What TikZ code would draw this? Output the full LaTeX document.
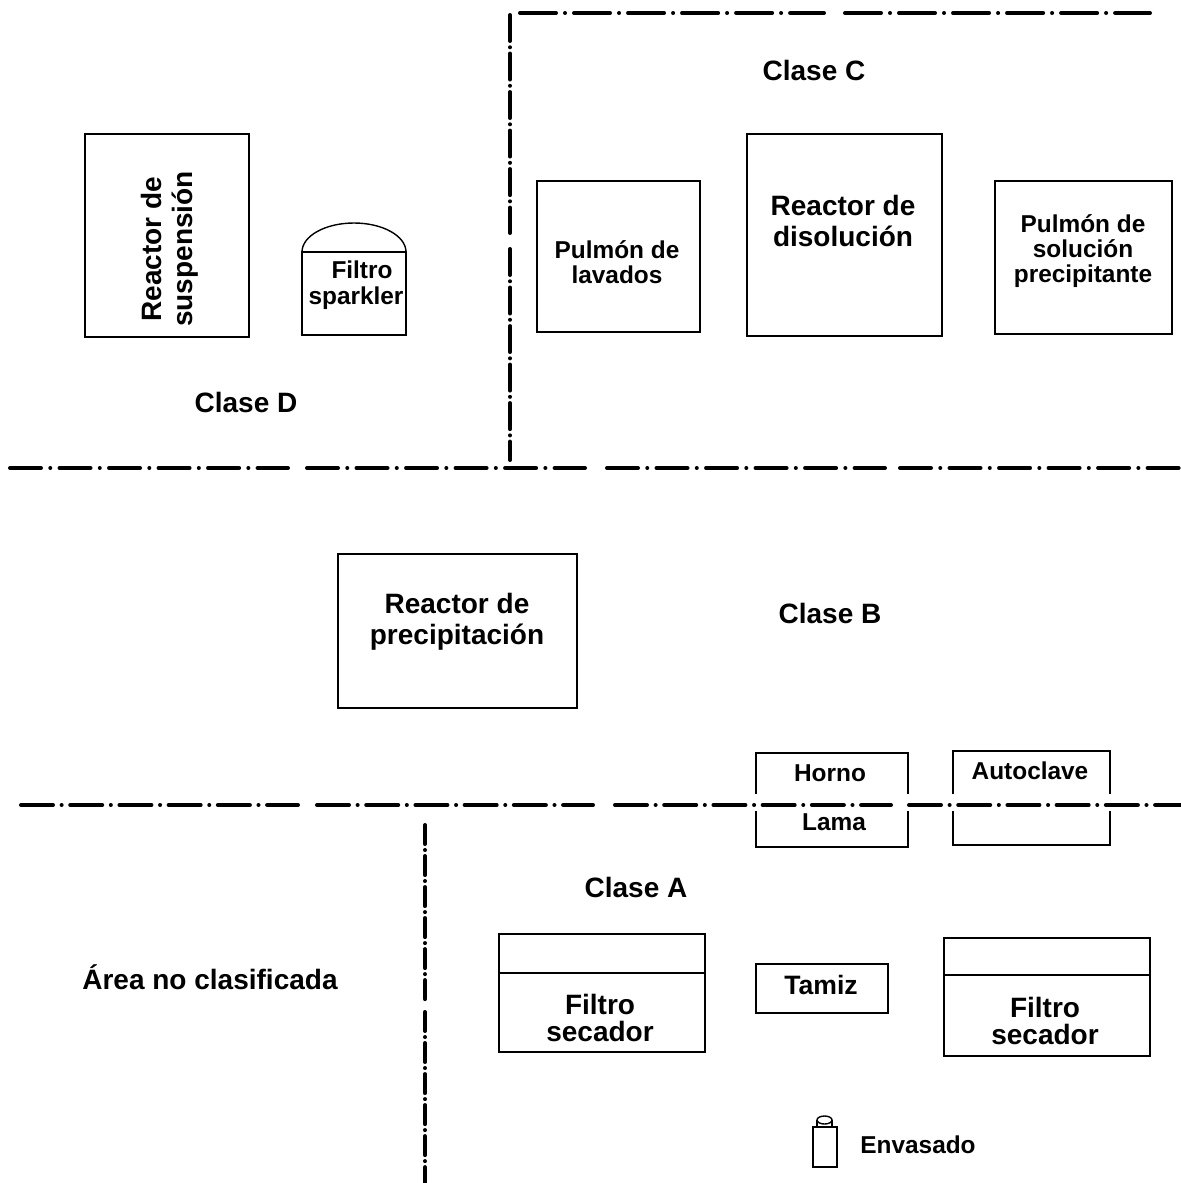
\documentclass[tikz,border=0pt]{standalone}
\usepackage{fontspec}
\setmainfont{Liberation Sans}
\begin{document}
\begin{tikzpicture}[x=0.5pt,y=-0.5pt,
  dd/.style 2 args={line width=2pt, line cap=round, dash pattern=on #1 off #2 on 0.01pt off #2},
  box/.style={draw, line width=0.7pt},
  big/.style={font=\fontsize{14}{15.5}\selectfont\bfseries, align=center, inner sep=0pt},
  fsec/.style={font=\fontsize{14}{13.5}\selectfont\bfseries, align=center, inner sep=0pt},
  small/.style={font=\fontsize{12.2}{12.7}\selectfont\bfseries, align=center, inner sep=0pt}]
\useasboundingbox (0,0) rectangle (1180,1183);
% zone borders
\coordinate (t1a) at (520,13); \coordinate (t1b) at (824,13);
\coordinate (t2a) at (845,13); \coordinate (t2b) at (1150,13);
\draw[dd={18pt}{4.5pt}] (t1a) -- (t1b);
\draw[dd={18pt}{4.5pt}] (t2a) -- (t2b);
\coordinate (v1a) at (510,15); \coordinate (v1b) at (510,233);
\coordinate (v2a) at (510,249); \coordinate (v2b) at (510,460);
\draw[dd={13pt}{3.125pt}] (v1a) -- (v1b);
\draw[dd={13pt}{3.125pt}] (v2a) -- (v2b);
\foreach \a/\b in {10/288, 307/585, 607/885, 900/1185}{
  \coordinate (ma) at (\a,468); \coordinate (mb) at (\b,468);
  \draw[dd={15.5pt}{4.625pt}] (ma) -- (mb);}
\foreach \a/\b in {21/298, 317/593, 615/891, 909/1185}{
  \coordinate (la) at (\a,805); \coordinate (lb) at (\b,805);
  \draw[dd={16pt}{4.3pt}] (la) -- (lb);}
\coordinate (w1a) at (425,825); \coordinate (w1b) at (425,1000);
\coordinate (w2a) at (425,1012); \coordinate (w2b) at (425,1190);
\draw[dd={9.5pt}{3pt}] (w1a) -- (w1b);
\draw[dd={9.5pt}{3pt}] (w2a) -- (w2b);
% Clase D
\draw[box] (85,134) rectangle (249,337);
\node[big, rotate=90] (rs) at (170,249) {Reactor de\\suspensión};
\draw[box] (302,252) rectangle (406,335);
\draw[box] (302,252) arc[start angle=180, end angle=360, x radius=52, y radius=29];
\node[small] (fs) at (356,285) {\hspace{6pt}Filtro\\sparkler};
\node[big] (cd) at (246,402) {Clase D};
% Clase C
\node[big] (cc) at (814,70) {Clase C};
\draw[box] (537,181) rectangle (700,332);
\node[small] (pl) at (617,262) {Pulmón de\\lavados};
\draw[box] (747,134) rectangle (942,336);
\node[big] (rd) at (843,221) {Reactor de\\disolución};
\draw[box] (995,181) rectangle (1172,334);
\node[small] (ps) at (1083,251) {Pulmón de\\solución\\precipitante};
% Clase B
\draw[box] (338,554) rectangle (577,708);
\node[big] (rp) at (457,622) {Reactor de\\precipitación};
\node[big] (cb) at (830,613) {Clase B};
% Horno / Autoclave
\draw[box] (756,794) -- (756,753) -- (908,753) -- (908,794);
\draw[box] (756,811) -- (756,847) -- (908,847) -- (908,811);
\node[small] (ho) at (830,773) {Horno};
\node[small] (lm) at (834,822) {Lama};
\draw[box] (953,794) -- (953,751) -- (1110,751) -- (1110,794);
\draw[box] (953,811) -- (953,845) -- (1110,845) -- (1110,811);
\node[small] (ac) at (1030,771) {Autoclave};
% Clase A
\node[big] (ca) at (636,887) {Clase A};
\draw[box] (499,934) rectangle (705,1052);
\draw[box] (499,973) -- (705,973);
\node[fsec] (fs1) at (600,1018) {Filtro\\secador};
\draw[box] (756,964) rectangle (888,1013);
\node[font=\fontsize{13.3}{14}\selectfont\bfseries, inner sep=0pt] (tz) at (821,985) {Tamiz};
\draw[box] (944,938) rectangle (1150,1056);
\draw[box] (944,975) -- (1150,975);
\node[fsec] (fs2) at (1045,1021) {Filtro\\secador};
\node[big] (an) at (210,977) {Área no clasificada};
% Envasado
\draw[box] (813,1127) rectangle (837,1167);
\draw[box] (817,1120) -- (817,1127) (832,1120) -- (832,1127);
\draw[box, fill=white] (824.5,1120) ellipse[x radius=7.5, y radius=4];
\node[small] (ev) at (918,1145) {Envasado};
\end{tikzpicture}
\end{document}
